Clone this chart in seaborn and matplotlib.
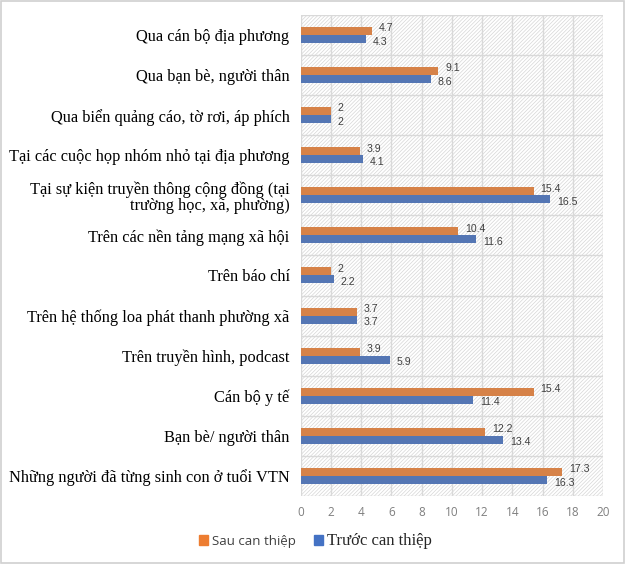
import numpy as np
import pandas as pd
import matplotlib
matplotlib.use("Agg")
import matplotlib.pyplot as plt
import seaborn as sns
from matplotlib.patches import Rectangle
from matplotlib.ticker import FixedLocator

categories = [
    "Qua cán bộ địa phương",
    "Qua bạn bè, người thân",
    "Qua biển quảng cáo, tờ rơi, áp phích",
    "Tại các cuộc họp nhóm nhỏ tại địa phương",
    "Tại sự kiện truyền thông cộng đồng (tại\ntrường học, xã, phường)",
    "Trên các nền tảng mạng xã hội",
    "Trên báo chí",
    "Trên hệ thống loa phát thanh phường xã",
    "Trên truyền hình, podcast",
    "Cán bộ y tế",
    "Bạn bè/ người thân",
    "Những người đã từng sinh con ở tuổi VTN",
]
sau = [4.7, 9.1, 2, 3.9, 15.4, 10.4, 2, 3.7, 3.9, 15.4, 12.2, 17.3]
truoc = [4.3, 8.6, 2, 4.1, 16.5, 11.6, 2.2, 3.7, 5.9, 11.4, 13.4, 16.3]
series_names = ["Sau can thiệp", "Trước can thiệp"]
x_ticks = list(range(0, 21, 2))

colors = ["#ED7D31", "#4472C4"]

df = pd.DataFrame({
    "cat": categories * 2,
    "val": sau + truoc,
    "series": [series_names[0]] * len(categories) + [series_names[1]] * len(categories),
})

sns.set_style("white")
plt.rcParams["hatch.linewidth"] = 0.5
fig = plt.figure(figsize=(6.25, 5.64), dpi=100)
ax = fig.add_axes([0.481, 0.1206, 0.484, 0.853])

sns.barplot(data=df, y="cat", x="val", hue="series", orient="h",
            hue_order=series_names, palette=colors, width=0.4,
            ax=ax, legend=False, zorder=3, edgecolor="none")

# hatched background
ax.add_patch(Rectangle((0, 0), 1, 1, transform=ax.transAxes, facecolor="white",
                       edgecolor="#D6D6D6", hatch="/////////", linewidth=0, zorder=0))

ax.set_xlim(0, 20)
ax.set_ylim(len(categories) - 0.5, -0.5)
ax.set_xticks(x_ticks)
ax.set_xticklabels([str(t) for t in x_ticks], fontsize=8.5, color="#7F7F7F",
                   fontfamily="Open Sans")
ax.tick_params(axis="x", length=0, pad=7)
ax.set_yticks(range(len(categories)))
ax.set_yticklabels(categories, fontsize=11.8, fontfamily="Liberation Serif",
                   color="#000000", linespacing=1.0)
ax.tick_params(axis="y", which="major", length=0, pad=8)
ax.yaxis.set_minor_locator(FixedLocator(np.arange(-0.5, len(categories), 1.0)))
ax.tick_params(axis="y", which="minor", length=5, color="#D9D9D9", width=1)
ax.set_xlabel("")
ax.set_ylabel("")

for xv in x_ticks:
    ax.axvline(xv, color="#D9D9D9", linewidth=1, zorder=1)
for yv in np.arange(-0.5, len(categories), 1.0):
    ax.axhline(yv, color="#D9D9D9", linewidth=1, zorder=1)
for s in ax.spines.values():
    s.set_visible(False)

for i, cont in enumerate(ax.containers):
    labels = [("%g" % v) for v in cont.datavalues]
    texts = ax.bar_label(cont, labels=labels, padding=5, fontsize=7.6, color="#404040",
                         fontfamily="Liberation Sans", zorder=4)
    dy = 1.9 if i == 0 else -1.9
    for t in texts:
        xa, ya = t.xyann
        t.xyann = (xa, ya + dy)

handles = [Rectangle((0, 0), 1, 1, color=c) for c in colors]
leg = fig.legend(handles, series_names, loc="center", bbox_to_anchor=(0.505, 0.041),
                 ncol=2, frameon=False, handlelength=0.65, handleheight=0.65,
                 columnspacing=1.3, handletextpad=0.3)
leg.get_texts()[0].set_fontfamily("Open Sans")
leg.get_texts()[0].set_fontsize(9.5)
leg.get_texts()[0].set_color("#404040")
leg.get_texts()[1].set_fontfamily("Liberation Serif")
leg.get_texts()[1].set_fontsize(12)

fig.add_artist(Rectangle((0.001, 0.001), 0.997, 0.997, transform=fig.transFigure,
                         fill=False, edgecolor="#D0D0D0", linewidth=1.2))

fig.savefig("out.png", dpi=100)
